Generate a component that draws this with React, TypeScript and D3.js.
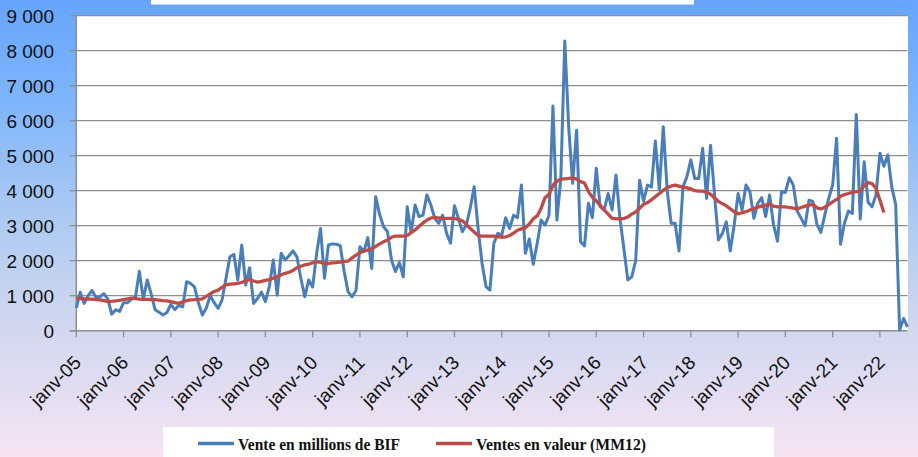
import React from "react";
import * as d3 from "d3";

// monthly sales, janv-05 .. août-22 (millions BIF)
const venteMensuelle = [
  650, 1100, 780, 1000, 1150, 950, 970, 1060, 900, 470, 600, 550,
  800, 800, 900, 950, 1700, 900, 1450, 1050, 600, 530, 450, 520,
  750, 600, 720, 680, 1400, 1350, 1250, 800, 450, 650, 1000, 800,
  640, 880, 1500, 2110, 2180, 1450, 2450, 1300, 1800, 780, 920, 1100,
  830, 1260, 2020, 1020, 2210, 2020, 2140, 2280, 2110, 1500, 970, 1450,
  1250, 2200, 2920, 1500, 2450, 2480, 2470, 2430, 1690, 1110, 970, 1150,
  2400, 2260, 2660, 1780, 3830, 3320, 2970, 2830, 2020, 1690, 1950, 1540,
  3540, 2800, 3590, 3260, 3300, 3880, 3590, 3210, 3070, 3300, 2780, 2500,
  3570, 3210, 2830, 3020, 3500, 4110, 2920, 1920, 1260, 1160, 2500, 2780,
  2730, 3230, 2920, 3300, 3230, 4160, 2210, 2620, 1900, 2500, 3160, 3020,
  3300, 6420, 3160, 4350, 8280, 5800, 4210, 5730, 2540, 2420, 3640, 3230,
  4640, 3540, 3450, 3920, 3450, 4450, 3210, 2350, 1450, 1540, 2000, 4300,
  3700, 4160, 4110, 5420, 4020, 5830, 4000, 3070, 3070, 2280, 4110, 4400,
  4880, 4350, 4350, 5210, 3780, 5300, 3900, 2590, 2780, 3110, 2280, 3020,
  3920, 3450, 4160, 3970, 3210, 3640, 3800, 3260, 3880, 3020, 2560, 3970,
  3950, 4370, 4160, 3420, 3210, 3000, 3730, 3690, 3040, 2810, 3300, 3780,
  4160, 5500, 2470, 3070, 3420, 3350, 6180, 3190, 4830, 3670, 3540, 3880,
  5070, 4700, 5020, 4110, 3610, 20, 350, 110,
];

// 12-month moving average, janv-05 .. fév-22
const venteMM12 = [
  930, 920, 910, 900, 900, 890, 880, 860, 830, 840, 850, 870,
  890, 910, 930, 920, 900, 895, 895, 890, 885, 875, 860, 850,
  830, 800, 780, 820, 860, 880, 885, 895, 910, 980, 1050, 1120,
  1160, 1240, 1310, 1330, 1340, 1350, 1380, 1430, 1460, 1420, 1390, 1410,
  1440, 1460, 1500, 1540, 1600, 1640, 1670, 1720, 1800, 1840, 1880, 1900,
  1940, 1970, 1950, 1920, 1920, 1940, 1945, 1960, 1980, 1990, 2080, 2160,
  2230, 2280, 2300, 2340, 2410, 2480, 2540, 2590, 2670, 2700, 2700, 2700,
  2720, 2800, 2880, 2980, 3080, 3160, 3220, 3240, 3220, 3210, 3210, 3210,
  3210, 3180, 3140, 3040, 2920, 2820, 2720, 2700, 2700, 2700, 2700, 2690,
  2670, 2680, 2720, 2790, 2870, 2910, 2940, 3050, 3200, 3280, 3500, 3800,
  3900, 4150, 4270, 4330, 4340, 4350, 4370, 4330, 4260, 4220, 3980, 3810,
  3710, 3580, 3450, 3330, 3210, 3200, 3190, 3210, 3250, 3330, 3390, 3500,
  3610, 3660, 3740, 3830, 3920, 4010, 4090, 4130, 4160, 4130, 4100, 4080,
  4050, 4000, 3990, 3990, 3960, 3900, 3800, 3690, 3630, 3570, 3480, 3400,
  3340, 3370, 3400, 3450, 3490, 3530, 3560, 3590, 3620, 3560, 3540, 3540,
  3540, 3520, 3500, 3480, 3520, 3560, 3590, 3610, 3510, 3480, 3530, 3600,
  3680, 3750, 3840, 3890, 3920, 3950, 3970, 3990, 4150, 4230, 4200, 4070,
  3730, 3380,
];

const xLabels = [
  "janv-05", "janv-06", "janv-07", "janv-08", "janv-09", "janv-10",
  "janv-11", "janv-12", "janv-13", "janv-14", "janv-15", "janv-16",
  "janv-17", "janv-18", "janv-19", "janv-20", "janv-21", "janv-22",
];
const yTicks = [0, 1000, 2000, 3000, 4000, 5000, 6000, 7000, 8000, 9000];
const seriesNames = ["Vente en millions de BIF", "Ventes en valeur (MM12)"];

const width = 918;
const height = 457;
const margin = { top: 15.7, right: 10.5, bottom: 126.3, left: 76.3 };

const blue = "#4a7ebb";
const red = "#be4b48";
const gridColor = "#8e8e8e";
const axisFont = "'Liberation Sans', Arial, sans-serif";

export default function App() {
  const x = d3
    .scaleLinear()
    .domain([0, venteMensuelle.length - 1])
    .range([margin.left, width - margin.right]);

  const y = d3
    .scaleLinear()
    .domain([0, 9000])
    .range([height - margin.bottom, margin.top]);

  const line = d3
    .line<number>()
    .x((_, i) => x(i))
    .y((d) => y(d));

  const fmt = (v: number) => d3.format(",")(v).replace(/,/g, " ");
  const y0 = y(0);

  return (
    <svg
      width={width}
      height={height}
      style={{ position: "absolute", left: 0, top: 0, display: "block" }}
    >
      <defs>
        <linearGradient id="bg" x1="0" y1="0" x2="0" y2="1">
          <stop offset="0" stopColor="#66a5fe" />
          <stop offset="0.22" stopColor="#7eb5fb" />
          <stop offset="0.45" stopColor="#a8c8f3" />
          <stop offset="0.68" stopColor="#cdd6ef" />
          <stop offset="0.82" stopColor="#dedcf1" />
          <stop offset="1" stopColor="#f7e4f4" />
        </linearGradient>
      </defs>
      <rect x={0} y={0} width={width} height={height} fill="url(#bg)" />
      {/* title box, cut off at the top */}
      <rect x={151} y={0} width={543} height={4.5} fill="#fff" />

      {/* plot area */}
      <rect
        x={margin.left}
        y={margin.top}
        width={width - margin.right - margin.left + 0.5}
        height={y0 - margin.top}
        fill="#fff"
      />

      {yTicks.map((t) => (
        <g key={t}>
          {t > 0 && (
            <line
              x1={margin.left}
              x2={width - margin.right}
              y1={y(t)}
              y2={y(t)}
              stroke={gridColor}
              strokeWidth={1.3}
            />
          )}
          <line
            x1={margin.left - 6.5}
            x2={margin.left}
            y1={y(t)}
            y2={y(t)}
            stroke={gridColor}
            strokeWidth={1.3}
          />
          <text
            x={54}
            y={y(t)}
            dy="0.36em"
            textAnchor="end"
            fontFamily={axisFont}
            fontSize={19}
            fill="#111"
          >
            {fmt(t)}
          </text>
        </g>
      ))}

      <line
        x1={margin.left}
        x2={margin.left}
        y1={margin.top}
        y2={y0}
        stroke={gridColor}
        strokeWidth={1.5}
      />
      <line
        x1={margin.left - 6.5}
        x2={width - margin.right}
        y1={y0}
        y2={y0}
        stroke={gridColor}
        strokeWidth={1.5}
      />

      {xLabels.map((lab, k) => {
        const tx = x(k * 12);
        return (
          <g key={lab}>
            <line
              x1={tx}
              x2={tx}
              y1={y0}
              y2={y0 + 6.5}
              stroke={gridColor}
              strokeWidth={1.3}
            />
            <text
              transform={`translate(${tx + 6},${y0 + 33}) rotate(-45)`}
              textAnchor="end"
              fontFamily={axisFont}
              fontSize={19}
              fill="#111"
            >
              {lab}
            </text>
          </g>
        );
      })}

      <path
        d={line(venteMensuelle) || ""}
        fill="none"
        stroke={blue}
        strokeWidth={3}
        strokeLinejoin="round"
      />
      <path
        d={line(venteMM12) || ""}
        fill="none"
        stroke={red}
        strokeWidth={3.3}
        strokeLinejoin="round"
      />

      {/* legend */}
      <rect x={163} y={427} width={611} height={30} fill="#fff" />
      {seriesNames.map((name, k) => {
        const lx = k === 0 ? 198 : 436;
        const tw = k === 0 ? 162 : 170;
        return (
          <g key={name}>
            <line
              x1={lx}
              x2={lx + 36}
              y1={443.5}
              y2={443.5}
              stroke={k === 0 ? blue : red}
              strokeWidth={3.3}
            />
            <text
              x={lx + 40}
              y={450}
              fontFamily="'Liberation Serif', 'Times New Roman', serif"
              fontWeight="bold"
              fontSize={17}
              textLength={tw}
              lengthAdjust="spacingAndGlyphs"
              fill="#111"
            >
              {name}
            </text>
          </g>
        );
      })}
    </svg>
  );
}
